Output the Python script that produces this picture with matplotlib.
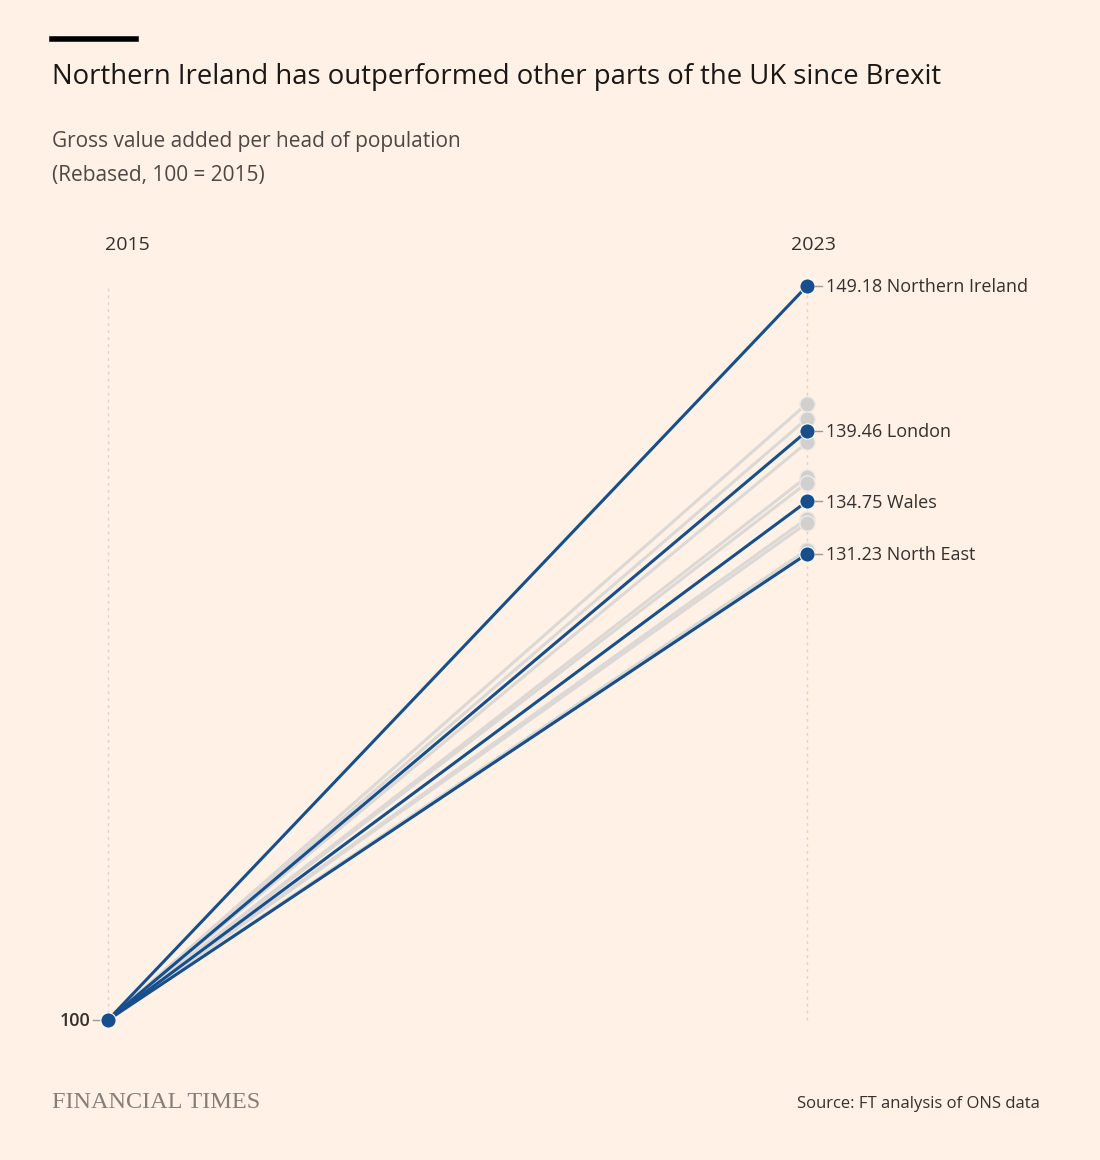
import matplotlib.pyplot as plt

W, H = 1100, 1160

bg = '#FFF1E5'
blue = '#174F8C'
grey = '#DCD8D5'

years = [2015, 2023]
grey_2023 = [141.3, 140.3, 138.7, 136.4, 136.0, 133.6, 133.3, 131.5]
names = ['Northern Ireland', 'London', 'Wales', 'North East']
blue_2023 = [149.18, 139.46, 134.75, 131.23]

fig = plt.figure(figsize=(W / 100, H / 100), dpi=100, facecolor=bg)

def px(x, y):
    return x / W, 1 - y / H

# axes placed so that 2015 -> x=108px, 2023 -> x=807px, 100 -> y=1020px, 149.18 -> y=286px
ax = fig.add_axes([108 / W, (H - 1020) / H, (807 - 108) / W, (1020 - 286) / H])
ax.set_facecolor(bg)
ax.set_xlim(2015, 2023)
ax.set_ylim(100, 149.18)
ax.axis('off')

for x in years:
    ax.plot([x, x], [100, 149.18], color='#E3CFCF', lw=1, ls=(0, (2, 3)), zorder=1, clip_on=False)

for v in grey_2023:
    ax.plot(years, [100, v], color=grey, lw=2.2, zorder=2, clip_on=False)
    ax.plot([2023], [v], 'o', ms=11, color='#D2D0CF', mec='#EDEAE7', mew=1, zorder=3, clip_on=False)

for v, n in zip(blue_2023, names):
    ax.plot(years, [100, v], color=blue, lw=2.2, zorder=4, clip_on=False)
    ax.plot([2023], [v], 'o', ms=11, color=blue, mec='white', mew=0.8, zorder=5, clip_on=False)
    ax.annotate(f'{v:.2f} {n}', xy=(2023, v), xytext=(14, -1), textcoords='offset points',
                va='center', ha='left', fontsize=13, family='Open Sans', color='#33302E',
                annotation_clip=False)
    # small tick between dot and label
    ax.plot([2023 + 0.09, 2023 + 0.17], [v, v], color='#A09A95', lw=1, clip_on=False, zorder=5)

ax.plot([2015], [100], 'o', ms=11, color=blue, mec='white', mew=0.8, zorder=6, clip_on=False)
ax.plot([2015 - 0.17, 2015 - 0.09], [100, 100], color='#A09A95', lw=1, clip_on=False)
ax.annotate('100', xy=(2015 - 0.2, 100), xytext=(0, -1), textcoords='offset points',
            ha='right', va='center', fontsize=13, family='Open Sans',
            color='#33302E', fontweight='semibold', annotation_clip=False)

# year headers
fig.text(*px(127, 245), '2015', ha='center', va='center', fontsize=14, family='Open Sans', color='#33302E')
fig.text(*px(813, 245), '2023', ha='center', va='center', fontsize=14, family='Open Sans', color='#33302E')

# title block
fig.add_artist(plt.Line2D([52 / W, 136 / W], [1 - 39 / H, 1 - 39 / H], color='black', lw=4))
fig.text(*px(52, 77), 'Northern Ireland has outperformed other parts of the UK since Brexit',
         ha='left', va='center', fontsize=19.8, family='Open Sans', color='#1A1817')
fig.text(*px(52, 142), 'Gross value added per head of population', ha='left', va='center',
         fontsize=15, family='Open Sans', color='#4D4845')
fig.text(*px(52, 175), '(Rebased, 100 = 2015)', ha='left', va='center',
         fontsize=15, family='Open Sans', color='#4D4845')

# footer
fig.text(*px(52, 1102), 'FINANCIAL TIMES', ha='left', va='center', fontsize=17.5,
         family='Liberation Serif', color='#857E76')
fig.text(*px(1040, 1104), 'Source: FT analysis of ONS data', ha='right', va='center',
         fontsize=12, family='Open Sans', color='#33302E')

fig.savefig('out.png', dpi=100, facecolor=bg)
